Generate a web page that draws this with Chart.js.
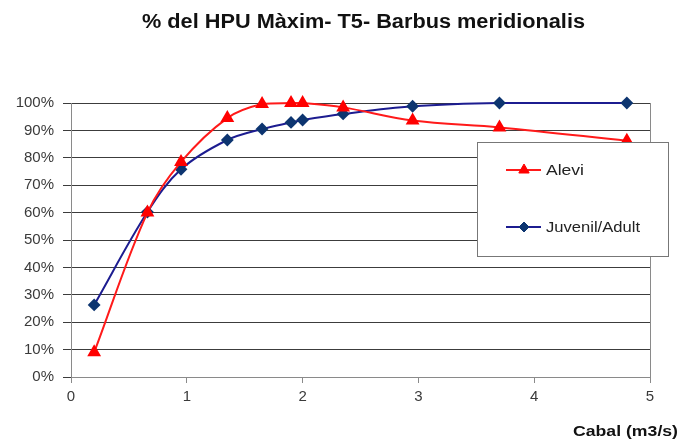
<!DOCTYPE html>
<html>
<head>
<meta charset="utf-8">
<script src="https://cdn.jsdelivr.net/npm/chart.js@4/dist/chart.umd.min.js"></script>
<style>
  html, body { margin: 0; padding: 0; background: #fff; }
  #wrap { width: 683px; height: 441px; }
</style>
</head>
<body>
<div id="wrap"><canvas id="hpuChart" width="683" height="441"></canvas></div>
<script>
// cabal (m3/s) i % de l'HPU màxim per a cada estadi
const cabal    = [0.2, 0.66, 0.95, 1.35, 1.65, 1.9, 2.0, 2.35, 2.95, 3.7, 4.8];
const alevi    = [9, 60, 78.5, 94.5, 99.6, 100, 100, 98.4, 93.6, 91.1, 86.2];
const juvenil  = [26.3, 60.2, 75.8, 86.5, 90.5, 92.9, 93.8, 96, 98.8, 100, 100];
const yTicks   = [0, 10, 20, 30, 40, 50, 60, 70, 80, 90, 100];
const xTicks   = [0, 1, 2, 3, 4, 5];

const FONT = "'Liberation Sans', Arial, sans-serif";
const pts = (xs, ys) => xs.map((x, i) => ({x, y: ys[i]}));

// escriu un text estirat horitzontalment fins a l'amplada w, començant a x
function wideText(ctx, text, x, y, w) {
  const m = ctx.measureText(text).width;
  ctx.save();
  ctx.translate(x, y);
  ctx.scale(w / m, 1);
  ctx.textAlign = "left";
  ctx.fillText(text, 0, 0);
  ctx.restore();
}

// títol, eix X, vora dreta i llegenda en caixa
const decor = {
  id: "decor",
  afterDraw(chart) {
    const {ctx, chartArea: a} = chart;
    ctx.save();
    ctx.strokeStyle = "#8a8a8a";
    ctx.lineWidth = 1;
    ctx.beginPath();
    ctx.moveTo(a.right + 0.5, a.top);
    ctx.lineTo(a.right + 0.5, a.bottom + 6);
    ctx.stroke();

    ctx.fillStyle = "#111";
    ctx.textBaseline = "middle";
    ctx.font = "bold 20px " + FONT;
    wideText(ctx, "% del HPU Màxim- T5- Barbus meridionalis", 142, 22, 443);
    ctx.font = "bold 15px " + FONT;
    wideText(ctx, "Cabal (m3/s)", 573, 432, 105);

    // llegenda
    const bx = 477, by = 142, bw = 191, bh = 114;
    ctx.fillStyle = "#fff";
    ctx.fillRect(bx, by, bw, bh);
    ctx.strokeStyle = "#777";
    ctx.strokeRect(bx + 0.5, by + 0.5, bw, bh);
    const rows = [170, 227];
    chart.data.datasets.forEach((ds, i) => {
      const y = rows[i];
      ctx.strokeStyle = ds.borderColor;
      ctx.lineWidth = 2;
      ctx.beginPath();
      ctx.moveTo(506, y);
      ctx.lineTo(541, y);
      ctx.stroke();
      ctx.fillStyle = ds.pointBackgroundColor;
      ctx.strokeStyle = ds.pointBorderColor;
      ctx.lineWidth = 1;
      Chart.helpers.drawPoint(ctx, {
        pointStyle: ds.pointStyle, radius: ds.pointRadius, rotation: 0, borderWidth: 1
      }, 524, y);
      ctx.fillStyle = "#222";
      ctx.font = "15px " + FONT;
      wideText(ctx, ds.label, 546, y + 1, ds.label.length > 6 ? 94 : 38);
    });
    ctx.restore();
  }
};

new Chart(document.getElementById("hpuChart"), {
  type: "line",
  data: {
    datasets: [
      {label: "Alevi", data: pts(cabal, alevi), borderColor: "#ff1a1a", borderWidth: 2,
       pointStyle: "triangle", pointRadius: 6, pointBackgroundColor: "#ff0000",
       pointBorderColor: "#ff0000", tension: 0.35, clip: false},
      {label: "Juvenil/Adult", data: pts(cabal, juvenil), borderColor: "#1c1c90", borderWidth: 2,
       pointStyle: "rectRot", pointRadius: 5, pointBackgroundColor: "#0d3570",
       pointBorderColor: "#0d3570", tension: 0.35, clip: false},
    ],
  },
  options: {
    responsive: false,
    animation: false,
    events: [],
    layout: {padding: {left: 0, top: 103, right: 33, bottom: 0}},
    plugins: {legend: {display: false}, tooltip: {enabled: false}},
    scales: {
      x: {
        type: "linear", min: 0, max: 5,
        afterBuildTicks: s => { s.ticks = xTicks.map(v => ({value: v})); },
        afterFit: s => { s.height = 64; },
        grid: {drawOnChartArea: false, drawTicks: true, tickLength: 6, color: "#8a8a8a"},
        border: {color: "#8a8a8a"},
        ticks: {color: "#3a3a3a", padding: 5, font: {family: FONT, size: 15}},
      },
      y: {
        min: 0, max: 100,
        afterBuildTicks: s => { s.ticks = yTicks.map(v => ({value: v})); },
        afterFit: s => { s.width = 71; },
        grid: {color: "#3c3c3c", tickLength: 8},
        border: {color: "#8a8a8a"},
        ticks: {color: "#3a3a3a", padding: 9, font: {family: FONT, size: 15}, callback: v => v + "%"},
      },
    },
  },
  plugins: [decor],
});
</script>
</body>
</html>
